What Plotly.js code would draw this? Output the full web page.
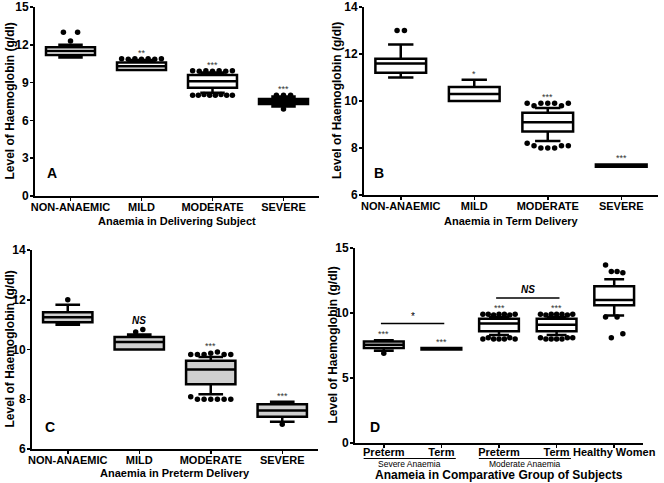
<!DOCTYPE html>
<html><head><meta charset="utf-8">
<script src="https://cdn.plot.ly/plotly-3.0.1.min.js"></script>
<style>html,body{margin:0;padding:0;background:#fff}#chart{width:664px;height:483px}</style>
</head><body><div id="chart"></div>
<script>
// ---------- Panel A: Anaemia in Delivering Subject ----------
const catsA = ['NON-ANAEMIC','MILD','MODERATE','SEVERE'];
const q1A = [11.2, 10.0, 8.6, 7.3];
const medA = [11.5, 10.3, 9.1, 7.5];
const q3A = [11.8, 10.6, 9.6, 7.7];
const loA = [11.0, 10.0, 8.2, 7.1];
const hiA = [12.0, 10.8, 9.8, 7.9];
const outHiA = [[13.0, 12.3, 13.0], [10.9,10.85,10.9,10.85,10.9,10.85,10.9], [9.95,9.9,9.95,9.9,9.95,9.9,9.95], [8.0, 8.0, 8.0]];
const outLoA = [[], [], [8.0,8.0,8.05,8.0,8.0,8.05,8.0,8.0], [6.9]];
const sigA = ['', '**', '***', '***'];

// ---------- Panel B: Anaemia in Term Delivery ----------
const catsB = ['NON-ANAEMIC','MILD','MODERATE','SEVERE'];
const q1B = [11.2, 10.0, 8.7, 7.2];
const medB = [11.6, 10.3, 9.1, 7.25];
const q3B = [11.8, 10.6, 9.5, 7.3];
const loB = [11.0, 10.0, 8.3, 7.2];
const hiB = [12.4, 10.9, 9.7, 7.3];
const outHiB = [[13.0, 13.0], [], [9.9, 9.8, 9.9, 9.9, 9.9, 9.8, 9.9], []];
const outLoB = [[], [], [8.2, 8.1, 8.0, 8.0, 8.0, 8.1, 8.1], []];
const sigB = ['', '*', '***', '***'];

// ---------- Panel C: Anaemia in Preterm Delivery ----------
const catsC = ['NON-ANAEMIC','MILD','MODERATE','SEVERE'];
const q1C = [11.1, 10.0, 8.6, 7.3];
const medC = [11.3, 10.3, 9.2, 7.55];
const q3C = [11.5, 10.5, 9.55, 7.8];
const loC = [11.0, 10.0, 8.2, 7.1];
const hiC = [11.8, 10.6, 9.7, 7.9];
const outHiC = [[12.0], [10.7, 10.8], [9.8, 9.8, 9.8, 9.85, 9.9, 9.8, 9.8], []];
const outLoC = [[], [], [8.1, 8.0, 8.0, 8.0, 8.0, 8.0, 8.0], [7.0]];
const sigC = ['', 'NS', '***', '***'];

// ---------- Panel D: Comparative groups ----------
const catsD = ['Preterm','Term','Preterm','Term','Healthy Women'];
const groupsD = ['Severe Anaemia', 'Moderate Anaemia'];
const q1D = [7.3, 7.2, 8.6, 8.6, 10.6];
const medD = [7.55, 7.25, 9.2, 9.1, 11.0];
const q3D = [7.8, 7.3, 9.55, 9.55, 12.05];
const loD = [7.1, 7.2, 8.3, 8.3, 9.8];
const hiD = [7.9, 7.3, 9.7, 9.7, 12.6];
const outHiD = [[], [], [9.9,9.9,9.85,9.9,9.9,9.85,9.9], [9.9,9.85,9.9,9.9,9.9,9.85,9.9], [13.7, 13.2, 13.2, 13.1]];
const outLoD = [[6.9], [], [8.0,8.1,8.0,8.0,8.0,8.1,8.0], [8.1,8.0,8.0,8.0,8.0,8.1,8.1], [9.7, 8.1, 9.7, 8.4]];
const sigD = ['***', '***', '***', '***', ''];
const bracketD = [{from: 0, to: 1, y: 9.2, label: '*'}, {from: 2, to: 3, y: 11.15, label: 'NS'}];

// ---------- drawing ----------
const FONT = 'Liberation Sans, Arial, sans-serif';
const W = 664, H = 483;
const px = x => x / W;
const py = y => 1 - y / H;

const panels = [
  {id:'', cats:catsA, q1:q1A, med:medA, q3:q3A, lo:loA, hi:hiA, oh:outHiA, ol:outLoA, sig:sigA,
   x0:35, x1:319, yt:7, yb:196, yr:[0,15], dt:3, fill:'#ffffff', letter:'A', lx:52, ly:173,
   xtitle:'Anaemia in Delivering Subject', xty:221, ytx:9, xstand:-3},
  {id:'2', cats:catsB, q1:q1B, med:medB, q3:q3B, lo:loB, hi:hiB, oh:outHiB, ol:outLoB, sig:sigB,
   x0:364, x1:658, yt:7, yb:195, yr:[6,14], dt:2, fill:'#ffffff', letter:'B', lx:379, ly:173,
   xtitle:'Anaemia in Term Delivery', xty:221, ytx:337, xstand:-3},
  {id:'3', cats:catsC, q1:q1C, med:medC, q3:q3C, lo:loC, hi:hiC, oh:outHiC, ol:outLoC, sig:sigC,
   x0:32, x1:318, yt:250, yb:449, yr:[6,14], dt:2, fill:'#cfcfcf', letter:'C', lx:50, ly:427,
   xtitle:'Anaemia in Preterm Delivery', xty:473, ytx:9, xstand:-3},
  {id:'4', cats:catsD, q1:q1D, med:medD, q3:q3D, lo:loD, hi:hiD, oh:outHiD, ol:outLoD, sig:sigD,
   x0:355, x1:643, yt:248, yb:443, yr:[0,15], dt:5, fill:'#ffffff', letter:'D', lx:375, ly:427,
   xtitle:'Anameia in Comparative Group of Subjects', xty:475, ytx:332, xtsize:12, xstand:-5}
];

function spread(vals){
  const n = vals.length; if(!n) return [];
  const step = n <= 4 ? 0.1 : 0.56/(n-1);
  return vals.map((v,i) => (i-(n-1)/2)*step);
}

const data = [];
const annotations = [];
const shapes = [];
const layout = {
  width: W, height: H, autosize: false,
  margin: {l:0, r:0, t:0, b:0},
  paper_bgcolor: '#ffffff', plot_bgcolor: '#ffffff',
  showlegend: false,
  font: {family: FONT, color: '#000'}
};

panels.forEach(p => {
  const xa = 'x' + p.id, ya = 'y' + p.id;
  const xkey = 'xaxis' + p.id, ykey = 'yaxis' + p.id;
  const n = p.cats.length;
  layout[xkey] = {
    domain: [px(p.x0), px(p.x1)], anchor: ya, range: [-0.5, n - 0.5],
    tickvals: p.cats.map((c,i)=>i), ticktext: p.cats, tickangle: 0,
    showline: true, linecolor: '#000', linewidth: 2, ticks: 'outside', ticklen: 3, tickwidth: 1.5,
    tickcolor: '#000', showgrid: false, zeroline: false, fixedrange: true,
    ticklabeloverflow: 'allow', ticklabelstandoff: p.xstand,
    tickfont: {family: FONT, size: 11, color: '#000', weight: 'bold'}
  };
  layout[ykey] = {
    domain: [py(p.yb), py(p.yt)], anchor: xa, range: p.yr, dtick: p.dt, tick0: 0,
    showline: true, linecolor: '#000', linewidth: 2, ticks: 'outside', ticklen: 3, tickwidth: 1.5,
    tickcolor: '#000', showgrid: false, zeroline: false, fixedrange: true,
    ticklabeloverflow: 'allow', ticklabelstandoff: -1,
    tickfont: {family: FONT, size: 12, color: '#000', weight: 'bold'}
  };
  p.cats.forEach((c,i) => {
    data.push({
      type: 'box', x: [i], q1: [p.q1[i]], median: [p.med[i]], q3: [p.q3[i]],
      lowerfence: [p.lo[i]], upperfence: [p.hi[i]], width: 0.69, whiskerwidth: 0.5,
      boxpoints: false, fillcolor: p.fill, line: {color: '#000', width: 2.5},
      xaxis: xa, yaxis: ya, hoverinfo: 'skip', showlegend: false
    });
  });
  // outliers
  const ox = [], oy = [];
  p.cats.forEach((c,i) => {
    [p.oh[i], p.ol[i]].forEach(row => {
      const offs = spread(row);
      row.forEach((v,k) => { ox.push(i + offs[k]); oy.push(v); });
    });
  });
  data.push({type:'scatter', mode:'markers', x: ox, y: oy, xaxis: xa, yaxis: ya,
    marker: {color:'#000', size: 5.5}, hoverinfo: 'skip', showlegend: false});
  // significance labels
  p.sig.forEach((s,i) => {
    if(!s) return;
    const top = Math.max(p.hi[i], ...p.oh[i]);
    const isNS = s === 'NS';
    annotations.push({xref: xa, yref: ya, x: i, y: top, text: isNS ? '<i><b>NS</b></i>' : s,
      showarrow: false, yanchor: 'bottom', yshift: isNS ? 2 : -1,
      font: {family: FONT, size: isNS ? 10 : 9, color: isNS ? '#000' : '#333'}});
  });
  // panel letter
  annotations.push({xref:'paper', yref:'paper', x: px(p.lx), y: py(p.ly), text: '<b>'+p.letter+'</b>',
    showarrow:false, xanchor:'center', yanchor:'middle', font:{family:FONT, size:14, color:'#000'}});
  // axis titles
  annotations.push({xref:'paper', yref:'paper', x: px((p.x0+p.x1)/2), y: py(p.xty), text: p.xtitle,
    showarrow:false, xanchor:'center', yanchor:'middle',
    font:{family: FONT, size: p.xtsize || 11, color:'#000', weight:'bold'}});
  annotations.push({xref:'paper', yref:'paper', x: px(p.ytx), y: py((p.yt+p.yb)/2), text: 'Level of Haemoglobin (g/dl)',
    showarrow:false, xanchor:'center', yanchor:'middle', textangle: -90,
    font:{family: FONT, size: 12, color:'#000', weight:'bold'}});
});

// Panel D group labels and underlines
const groupSpans = [[-0.35, 1.25], [1.65, 3.25]];
groupsD.forEach((g, k) => {
  const [a, b] = groupSpans[k];
  shapes.push({type:'line', xref:'x4', yref:'paper', x0:a, x1:b, y0:py(458.5), y1:py(458.5), line:{color:'#000', width:1.2}});
  annotations.push({xref:'x4', yref:'paper', x:(a+b)/2, y:py(464), text:g, showarrow:false,
    xanchor:'center', yanchor:'middle', font:{family: FONT, size: 8.5, color:'#000'}});
});
// Panel D brackets
bracketD.forEach(b => {
  shapes.push({type:'line', xref:'x4', yref:'y4', x0:b.from-0.05, x1:b.to+0.05, y0:b.y, y1:b.y, line:{color:'#000', width:1.5}});
  const isNS = b.label === 'NS';
  annotations.push({xref:'x4', yref:'y4', x:(b.from+b.to)/2, y:b.y, text: isNS ? '<i><b>NS</b></i>' : b.label,
    showarrow:false, yanchor:'bottom', yshift: isNS ? 1 : -1,
    font:{family:FONT, size: 10, color: '#000'}});
});

layout.annotations = annotations;
layout.shapes = shapes;
Plotly.newPlot('chart', data, layout, {staticPlot: true, displayModeBar: false});
</script>
</body></html>
